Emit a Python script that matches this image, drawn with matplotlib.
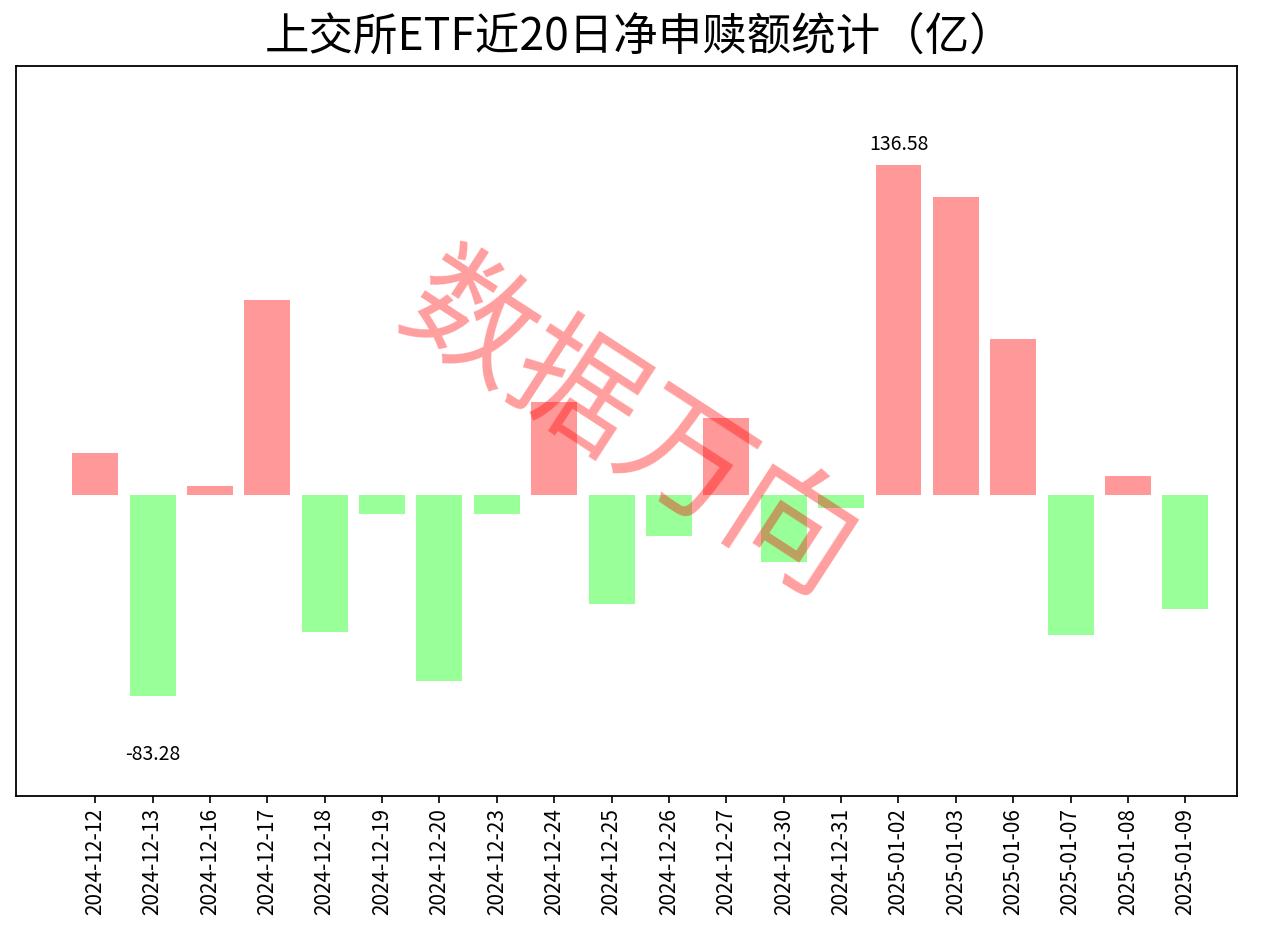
import matplotlib
matplotlib.use("Agg")
import matplotlib.pyplot as plt
import numpy as np

plt.rcParams['font.family'] = ['Noto Sans CJK SC', 'DejaVu Sans']
plt.rcParams['axes.unicode_minus'] = False

dates = ["2024-12-12", "2024-12-13", "2024-12-16", "2024-12-17", "2024-12-18",
         "2024-12-19", "2024-12-20", "2024-12-23", "2024-12-24", "2024-12-25",
         "2024-12-26", "2024-12-27", "2024-12-30", "2024-12-31", "2025-01-02",
         "2025-01-03", "2025-01-06", "2025-01-07", "2025-01-08", "2025-01-09"]
values = [17.4, -83.28, 3.7, 80.7, -57.1, -7.9, -77.4, -7.9, 38.5, -45.5,
          -17.0, 31.9, -28.1, -5.4, 136.58, 123.3, 64.6, -58.4, 7.5, -47.6]

fig = plt.figure(figsize=(12.8, 9.39), dpi=100)
ax = fig.add_axes([16/1280, 1 - 796/939, (1237-16)/1280, (796-66)/939])

x = np.arange(len(dates))
colors = ['#ff9999' if v >= 0 else '#99ff99' for v in values]
ax.bar(x, values, width=0.8, color=colors)

vmax = max(values); vmin = min(values)
imax = values.index(vmax); imin = values.index(vmin)
ax.set_ylim(vmin * 1.5, vmax * 1.3)
ax.set_xlim(-1.38, 19.9)
ax.annotate(f"{vmax:.2f}", (imax, vmax), xytext=(0, 7), textcoords='offset points',
            ha='center', va='bottom', fontsize=14)
ax.annotate(f"{vmin:.2f}", (imin, vmin), xytext=(0, -50), textcoords='offset points',
            ha='center', va='bottom', fontsize=14)

ax.set_yticks([])
ax.set_xticks(x)
ax.set_xticklabels(dates, rotation=90, fontsize=15)
ax.tick_params(axis='x', length=5, width=1.2)
for s in ax.spines.values():
    s.set_linewidth(1.3)

fig.text(0.5, 1 - 37/939, "上交所ETF近20日净申赎额统计（亿）", ha='center', va='center', fontsize=32)

ax.text(0.5, 0.5, "数据万向", transform=ax.transAxes, ha='center', va='center',
        fontsize=92, color='red', alpha=0.38, rotation=-33, rotation_mode='anchor')

fig.savefig("out.png", dpi=100)
